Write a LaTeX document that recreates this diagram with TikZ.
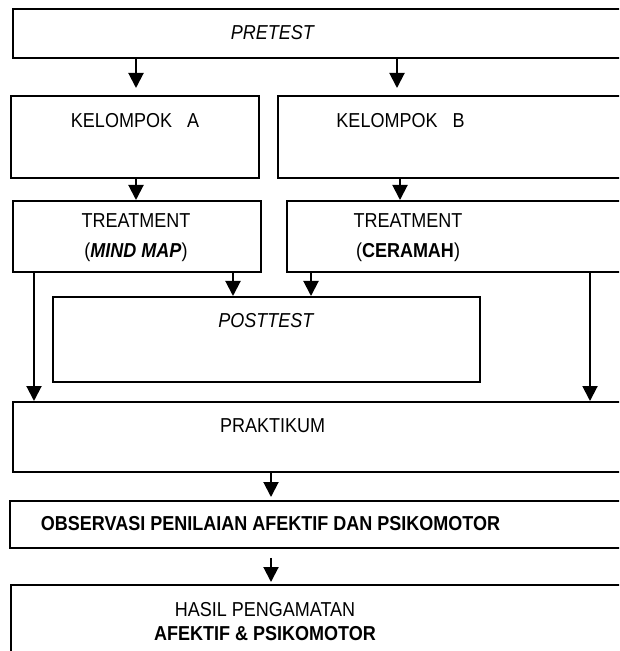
\documentclass[tikz,border=0pt]{standalone}
\usepackage{fontspec}
\setmainfont{Liberation Sans}
\usetikzlibrary{arrows.meta}

\begin{document}
\begin{tikzpicture}[x=0.5pt,y=-0.5pt,
  box/.style={draw=black, line width=0.9pt, rectangle, inner sep=0pt, anchor=north west},
  txt/.style={font=\fontsize{9}{11}\selectfont, inner sep=0pt, text height=6.5pt, text depth=0pt, yscale=1.12, transform shape},
  arr/.style={line width=1pt, -{Triangle[length=7.5pt,width=7.5pt]}}]
\useasboundingbox (0,0) rectangle (619,651);
\clip (0,0) rectangle (619,651);
% boxes
\node[box, minimum width=344pt, minimum height=24.5pt] (pretest) at (12,8) {};
\node[box, minimum width=124pt, minimum height=41pt] (kelA) at (10,95) {};
\node[box, minimum width=211.5pt, minimum height=41pt] (kelB) at (277,95) {};
\node[box, minimum width=124pt, minimum height=35.5pt] (treatA) at (12,200) {};
\node[box, minimum width=207pt, minimum height=35.5pt] (treatB) at (286,200) {};
\node[box, minimum width=213.5pt, minimum height=42.5pt] (posttest) at (52,296) {};
\node[box, minimum width=344pt, minimum height=35pt] (praktikum) at (12,401) {};
\node[box, minimum width=345.5pt, minimum height=23.5pt] (observasi) at (9,500) {};
\node[box, minimum width=345pt, minimum height=58pt] (hasil) at (10,584) {};
% texts
\node[txt] (tPre) at (273,32) {\textit{PRETEST}};
\node[txt] (tKelA) at (135,120) {KELOMPOK~~~A};
\node[txt] (tKelB) at (400.5,120) {KELOMPOK~~~B};
\node[txt, text height=, text depth=, align=center, font=\fontsize{9}{13.2}\selectfont] (tTreatA) at (136,237.5) {TREATMENT\\(\textbf{\textit{MIND MAP}})};
\node[txt, text height=, text depth=, align=center, font=\fontsize{9}{13.2}\selectfont] (tTreatB) at (408,237.5) {TREATMENT\\(\textbf{CERAMAH})};
\node[txt] (tPost) at (266.5,320) {\textit{POSTTEST}};
\node[txt] (tPrak) at (272.5,425) {PRAKTIKUM};
\node[txt] (tObs) at (270.5,523) {\textbf{OBSERVASI PENILAIAN AFEKTIF DAN PSIKOMOTOR}};
\node[txt, text height=, text depth=, align=center, font=\fontsize{9}{10.4}\selectfont] (tHasil) at (265,621.5) {HASIL PENGAMATAN\\\textbf{AFEKTIF \& PSIKOMOTOR}};
% arrows
\draw[arr, shorten >=3.5pt] (pretest.south -| 136,0) -- (kelA.north -| 136,0);
\draw[arr, shorten >=3.5pt] (pretest.south -| 397,0) -- (kelB.north -| 397,0);
\draw[arr] (kelA.south -| 136,0) -- (treatA.north -| 136,0);
\draw[arr] (kelB.south -| 400,0) -- (treatB.north -| 400,0);
\draw[arr] (treatA.south -| 233,0) -- (posttest.north -| 233,0);
\draw[arr] (treatB.south -| 311,0) -- (posttest.north -| 311,0);
\draw[arr] (treatA.south -| 34,0) -- (praktikum.north -| 34,0);
\draw[arr] (treatB.south -| 590,0) -- (praktikum.north -| 590,0);
\draw[arr, shorten >=1.5pt] (praktikum.south -| 271,0) -- (observasi.north -| 271,0);
\draw[arr, shorten <=4.5pt, shorten >=1pt] (observasi.south -| 271,0) -- (hasil.north -| 271,0);
\end{tikzpicture}
\end{document}
